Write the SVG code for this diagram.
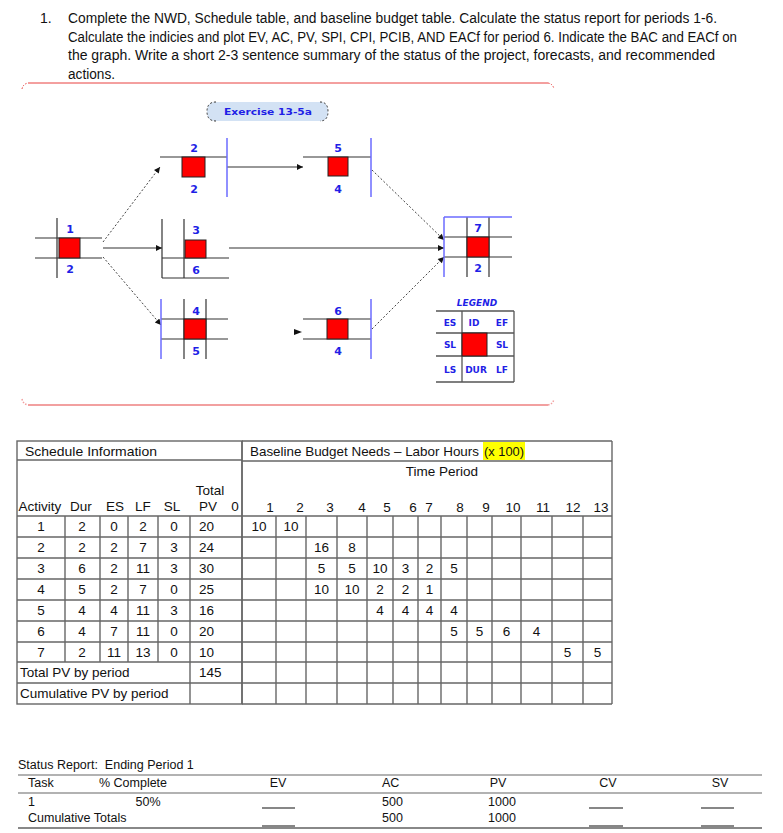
<svg xmlns="http://www.w3.org/2000/svg" width="783" height="833" viewBox="0 0 783 833">
<style>
.p{font-family:"Liberation Sans",Arial,sans-serif;font-size:14px;fill:#111}
.t{font-family:"Liberation Sans",Arial,sans-serif;font-size:13.5px;fill:#111}
.tc{font-family:"Liberation Sans",Arial,sans-serif;font-size:13.5px;fill:#111;text-anchor:middle}
.r{font-family:"Liberation Sans",Arial,sans-serif;font-size:12.5px;fill:#111}
.rc{font-family:"Liberation Sans",Arial,sans-serif;font-size:12.5px;fill:#111;text-anchor:middle}
.n{font-family:"DejaVu Sans",Verdana,sans-serif;font-size:11px;font-weight:bold;fill:#1f1fe6;text-anchor:middle}
.lg{font-family:"DejaVu Sans",Verdana,sans-serif;font-size:9px;font-weight:bold;fill:#1f1fe6;text-anchor:middle}
.k{stroke:#333;stroke-width:1.2;fill:none}
.b{stroke:#6b6bff;stroke-width:1.5;fill:none}
.sq{fill:#ff0000;stroke:#222;stroke-width:1}
.dot{stroke:#444;stroke-width:1;stroke-dasharray:2 2;fill:none}
.sol{stroke:#333;stroke-width:1.2;fill:none}
.g{stroke:#666;stroke-width:1.4;fill:none}
.s{stroke:#999;stroke-width:1.3;fill:none}
.ul{stroke:#111;stroke-width:1.1}
</style>
<defs>
<marker id="ah" viewBox="0 0 10 10" refX="10" refY="5" markerWidth="8" markerHeight="6" markerUnits="userSpaceOnUse" orient="auto">
<path d="M0,0 L10,5 L0,10 z" fill="#111"/>
</marker>
</defs>
<rect width="783" height="833" fill="#fff"/>

<!-- Question text -->
<g id="question">
<text class="p" x="40" y="23">1.</text>
<text class="p" x="68" y="23" textLength="649" lengthAdjust="spacingAndGlyphs">Complete the NWD, Schedule table, and baseline budget table. Calculate the status report for periods 1-6.</text>
<text class="p" x="68" y="41.5" textLength="669" lengthAdjust="spacingAndGlyphs">Calculate the indicies and plot EV, AC, PV, SPI, CPI, PCIB, AND EACf for period 6. Indicate the BAC and EACf on</text>
<text class="p" x="68" y="60" textLength="647" lengthAdjust="spacingAndGlyphs">the graph. Write a short 2-3 sentence summary of the status of the project, forecasts, and recommended</text>
<text class="p" x="68" y="78.5" textLength="47" lengthAdjust="spacingAndGlyphs">actions.</text>
</g>

<!-- separator frame -->
<g id="frame">
<path d="M22,89 Q23,84 28,83" stroke="#e8403f" stroke-width="1" stroke-dasharray="1.5 1.5" fill="none"/>
<line x1="28" y1="83" x2="548" y2="83" stroke="#e8403f" stroke-width="1"/>
<path d="M548,83 Q553,84 554,89" stroke="#e8403f" stroke-width="1" stroke-dasharray="1.5 1.5" fill="none"/>
<path d="M22,399 Q23,404 28,405" stroke="#f2a0a0" stroke-width="1.5" stroke-dasharray="1.5 1.5" fill="none"/>
<line x1="28" y1="405" x2="548" y2="405" stroke="#f2a0a0" stroke-width="2"/>
<path d="M548,405 Q553,404 554,399" stroke="#f2a0a0" stroke-width="1.5" stroke-dasharray="1.5 1.5" fill="none"/>
</g>

<!-- Exercise label -->
<g id="exercise">
<path d="M216,102 L320,102 Q328,102 328,111.5 Q328,121 320,121 L216,121 Q207,121 207,111.5 Q207,102 216,102 z" fill="#d3e2f4"/>
<path d="M216,102 Q207,102 207,111.5 Q207,121 216,121" stroke="#333" stroke-width="1" stroke-dasharray="2 2" fill="none"/>
<path d="M320,102 Q328,102 328,111.5 Q328,121 320,121" stroke="#333" stroke-width="1" stroke-dasharray="2 2" fill="none"/>
<text class="lg" x="268" y="115" textLength="88" lengthAdjust="spacingAndGlyphs">Exercise 13-5a</text>
</g>

<!-- connectors -->
<g id="connectors">
<line class="dot" x1="103" y1="242" x2="160" y2="167" marker-end="url(#ah)"/>
<line class="sol" x1="103" y1="248" x2="162" y2="248" marker-end="url(#ah)"/>
<line class="dot" x1="103" y1="257" x2="161" y2="325" marker-end="url(#ah)"/>
<line class="sol" x1="227" y1="167" x2="303" y2="167" marker-end="url(#ah)"/>
<line class="sol" x1="229" y1="248" x2="444" y2="248" marker-end="url(#ah)"/>
<line class="dot" x1="372" y1="170" x2="444" y2="240" marker-end="url(#ah)"/>
<line class="dot" x1="372" y1="329" x2="444" y2="257" marker-end="url(#ah)"/>
<path d="M294,329 L302,332 L294,335 z" fill="#111"/>
</g>

<!-- Node 1 -->
<g id="node1">
<line class="k" x1="35" y1="238" x2="102" y2="238"/>
<line class="k" x1="35" y1="258" x2="102" y2="258"/>
<line class="k" x1="57" y1="218" x2="57" y2="278"/>
<rect class="sq" x="59" y="238" width="21" height="20"/>
<text class="n" x="70" y="233">1</text>
<text class="n" x="70" y="273">2</text>
</g>

<!-- Node 2 -->
<g id="node2">
<line class="k" x1="160" y1="157" x2="227" y2="157"/>
<rect class="sq" x="182" y="157" width="23" height="20"/>
<line class="b" x1="227" y1="138" x2="227" y2="197"/>
<text class="n" x="194" y="152">2</text>
<text class="n" x="194" y="193">2</text>
</g>

<!-- Node 3 -->
<g id="node3">
<line class="k" x1="162" y1="219" x2="162" y2="278"/>
<line class="k" x1="184" y1="219" x2="184" y2="278"/>
<line class="k" x1="162" y1="258" x2="229" y2="258"/>
<line class="k" x1="162" y1="278" x2="229" y2="278"/>
<rect class="sq" x="185" y="240" width="21" height="18"/>
<text class="n" x="196" y="234">3</text>
<text class="n" x="196" y="274">6</text>
</g>

<!-- Node 4 -->
<g id="node4">
<line class="k" x1="161" y1="319" x2="228" y2="319"/>
<line class="k" x1="161" y1="339" x2="228" y2="339"/>
<line class="k" x1="184" y1="299" x2="184" y2="359"/>
<line class="k" x1="206" y1="299" x2="206" y2="359"/>
<rect class="sq" x="184" y="319" width="22" height="20"/>
<line class="b" x1="161" y1="299" x2="161" y2="359"/>
<text class="n" x="196" y="315">4</text>
<text class="n" x="196" y="355">5</text>
</g>

<!-- Node 5 -->
<g id="node5">
<line class="k" x1="303" y1="157" x2="371" y2="157"/>
<rect class="sq" x="328" y="157" width="20" height="19"/>
<line class="b" x1="371" y1="138" x2="371" y2="197"/>
<text class="n" x="338" y="152">5</text>
<text class="n" x="338" y="193">4</text>
</g>

<!-- Node 6 -->
<g id="node6">
<line class="k" x1="303" y1="319" x2="371" y2="319"/>
<line class="k" x1="303" y1="339" x2="371" y2="339"/>
<rect class="sq" x="327" y="319" width="21" height="20"/>
<line class="b" x1="371" y1="299" x2="371" y2="359"/>
<text class="n" x="338" y="315">6</text>
<text class="n" x="338" y="355">4</text>
</g>

<!-- Node 7 -->
<g id="node7">
<line class="k" x1="444" y1="237" x2="512" y2="237"/>
<line class="k" x1="444" y1="257" x2="512" y2="257"/>
<line class="k" x1="467" y1="217" x2="467" y2="277"/>
<line class="k" x1="489" y1="217" x2="489" y2="277"/>
<rect class="sq" x="467" y="237" width="22" height="20"/>
<line class="b" x1="444" y1="217" x2="444" y2="277"/>
<line class="b" x1="444" y1="217" x2="512" y2="217"/>
<text class="n" x="478" y="232">7</text>
<text class="n" x="478" y="272">2</text>
</g>

<!-- Legend -->
<g id="legend">
<text class="lg" x="477" y="306" font-style="italic">LEGEND</text>
<g stroke="#555" stroke-width="1.3" fill="none">
<line x1="436" y1="311" x2="514" y2="311"/>
<line x1="436" y1="333" x2="514" y2="333"/>
<line x1="436" y1="356" x2="514" y2="356"/>
<line x1="436" y1="382" x2="514" y2="382"/>
<line x1="462" y1="311" x2="462" y2="382"/>
<line x1="514" y1="311" x2="514" y2="382"/>
</g>
<rect class="sq" x="462" y="333" width="25" height="23"/>
<text class="lg" x="450" y="326">ES</text>
<text class="lg" x="474" y="326">ID</text>
<text class="lg" x="502" y="326">EF</text>
<text class="lg" x="450" y="348">SL</text>
<text class="lg" x="502" y="348">SL</text>
<text class="lg" x="450" y="373">LS</text>
<text class="lg" x="476" y="373">DUR</text>
<text class="lg" x="502" y="373">LF</text>
</g>

<!-- Schedule table -->
<g id="schedule-table">
<g class="g">
<rect x="17" y="441" width="225" height="263"/>
<line x1="17" y1="460" x2="242" y2="460"/>
<line x1="17" y1="516" x2="242" y2="516"/>
<line x1="17" y1="537" x2="242" y2="537"/>
<line x1="17" y1="558" x2="242" y2="558"/>
<line x1="17" y1="579" x2="242" y2="579"/>
<line x1="17" y1="600" x2="242" y2="600"/>
<line x1="17" y1="621" x2="242" y2="621"/>
<line x1="17" y1="642" x2="242" y2="642"/>
<line x1="17" y1="662" x2="242" y2="662"/>
<line x1="17" y1="683" x2="242" y2="683"/>
<line x1="65" y1="516" x2="65" y2="662"/>
<line x1="100" y1="516" x2="100" y2="662"/>
<line x1="128" y1="516" x2="128" y2="662"/>
<line x1="158" y1="516" x2="158" y2="662"/>
<line x1="190" y1="516" x2="190" y2="704"/>
</g>
<text class="t" x="25" y="456" textLength="132" lengthAdjust="spacingAndGlyphs">Schedule Information</text>
<text class="tc" x="210" y="495">Total</text>
<text class="tc" x="40" y="511">Activity</text>
<text class="tc" x="81" y="511">Dur</text>
<text class="tc" x="115" y="511">ES</text>
<text class="tc" x="143" y="511">LF</text>
<text class="tc" x="172" y="511">SL</text>
<text class="tc" x="208" y="511">PV</text>
<text class="tc" x="235" y="511">0</text>
<g class="tc">
<text x="41" y="531">1</text><text x="82" y="531">2</text><text x="114" y="531">0</text><text x="143" y="531">2</text><text x="174" y="531">0</text>
<text x="41" y="552">2</text><text x="82" y="552">2</text><text x="114" y="552">2</text><text x="143" y="552">7</text><text x="174" y="552">3</text>
<text x="41" y="573">3</text><text x="82" y="573">6</text><text x="114" y="573">2</text><text x="143" y="573">11</text><text x="174" y="573">3</text>
<text x="41" y="594">4</text><text x="82" y="594">5</text><text x="114" y="594">2</text><text x="143" y="594">7</text><text x="174" y="594">0</text>
<text x="41" y="615">5</text><text x="82" y="615">4</text><text x="114" y="615">4</text><text x="143" y="615">11</text><text x="174" y="615">3</text>
<text x="41" y="636">6</text><text x="82" y="636">4</text><text x="114" y="636">7</text><text x="143" y="636">11</text><text x="174" y="636">0</text>
<text x="41" y="656.5">7</text><text x="82" y="656.5">2</text><text x="114" y="656.5">11</text><text x="143" y="656.5">13</text><text x="174" y="656.5">0</text>
</g>
<g class="t">
<text x="199" y="531">20</text>
<text x="199" y="552">24</text>
<text x="199" y="573">30</text>
<text x="199" y="594">25</text>
<text x="199" y="615">16</text>
<text x="199" y="636">20</text>
<text x="199" y="656.5">10</text>
<text x="199" y="677">145</text>
<text x="20" y="677">Total PV by period</text>
<text x="20" y="698">Cumulative PV by period</text>
</g>
</g>

<!-- Budget table -->
<g id="budget-table">
<rect x="483" y="442" width="42" height="18" fill="#ffff00"/>
<g class="g">
<line x1="242" y1="441" x2="612" y2="441"/>
<line x1="242" y1="461" x2="612" y2="461"/>
<line x1="612" y1="441" x2="612" y2="704"/>
<line x1="242" y1="441" x2="242" y2="704"/>
<line x1="242" y1="516" x2="612" y2="516"/>
<line x1="242" y1="537" x2="612" y2="537"/>
<line x1="242" y1="558" x2="612" y2="558"/>
<line x1="242" y1="579" x2="612" y2="579"/>
<line x1="242" y1="600" x2="612" y2="600"/>
<line x1="242" y1="621" x2="612" y2="621"/>
<line x1="242" y1="642" x2="612" y2="642"/>
<line x1="242" y1="662" x2="612" y2="662"/>
<line x1="242" y1="683" x2="612" y2="683"/>
<line x1="242" y1="704" x2="612" y2="704"/>
<line x1="276" y1="516" x2="276" y2="704"/>
<line x1="306" y1="516" x2="306" y2="704"/>
<line x1="337" y1="516" x2="337" y2="704"/>
<line x1="367" y1="516" x2="367" y2="704"/>
<line x1="393" y1="516" x2="393" y2="704"/>
<line x1="418" y1="516" x2="418" y2="704"/>
<line x1="441" y1="516" x2="441" y2="704"/>
<line x1="467" y1="516" x2="467" y2="704"/>
<line x1="492" y1="516" x2="492" y2="704"/>
<line x1="521" y1="516" x2="521" y2="704"/>
<line x1="552" y1="516" x2="552" y2="704"/>
<line x1="583" y1="516" x2="583" y2="704"/>
</g>
<text class="t" x="250" y="456" textLength="229" lengthAdjust="spacingAndGlyphs">Baseline Budget Needs – Labor Hours</text>
<text class="t" x="484" y="456" textLength="40" lengthAdjust="spacingAndGlyphs">(x 100)</text>
<text class="tc" x="442" y="476">Time Period</text>
<g class="tc">
<text x="270" y="512">1</text><text x="300" y="512">2</text><text x="330" y="512">3</text><text x="362" y="512">4</text>
<text x="387" y="512">5</text><text x="413" y="512">6</text><text x="429" y="512">7</text><text x="460" y="512">8</text>
<text x="486" y="512">9</text><text x="513" y="512">10</text><text x="543" y="512">11</text><text x="573" y="512">12</text><text x="601" y="512">13</text>
</g>
<g class="tc">
<text x="259" y="531">10</text><text x="291" y="531">10</text>
<text x="321.5" y="552">16</text><text x="352" y="552">8</text>
<text x="321.5" y="573">5</text><text x="352" y="573">5</text><text x="380" y="573">10</text><text x="405.5" y="573">3</text><text x="429.5" y="573">2</text><text x="454" y="573">5</text>
<text x="321.5" y="594">10</text><text x="352" y="594">10</text><text x="380" y="594">2</text><text x="405.5" y="594">2</text><text x="429.5" y="594">1</text>
<text x="380" y="615">4</text><text x="405.5" y="615">4</text><text x="429.5" y="615">4</text><text x="454" y="615">4</text>
<text x="454" y="636">5</text><text x="479.5" y="636">5</text><text x="506.5" y="636">6</text><text x="536.5" y="636">4</text>
<text x="567.5" y="656.5">5</text><text x="597.5" y="656.5">5</text>
</g>
</g>

<!-- Status report -->
<g id="status-report">
<text class="r" x="18" y="769" xml:space="preserve">Status Report:  Ending Period 1</text>
<line class="s" x1="18" y1="775" x2="762" y2="775"/>
<line class="s" x1="18" y1="793" x2="762" y2="793"/>
<line x1="18" y1="828" x2="762" y2="828" stroke="#888" stroke-width="2"/>
<text class="r" x="28" y="787">Task</text>
<text class="rc" x="133" y="787">% Complete</text>
<text class="rc" x="278" y="787">EV</text>
<text class="r" x="382" y="787">AC</text>
<text class="rc" x="498" y="787">PV</text>
<text class="rc" x="608" y="787">CV</text>
<text class="rc" x="720" y="787">SV</text>
<text class="r" x="28" y="806">1</text>
<text class="rc" x="148" y="806">50%</text>
<text class="r" x="382" y="806">500</text>
<text class="rc" x="502" y="806">1000</text>
<text class="r" x="28" y="822">Cumulative Totals</text>
<text class="r" x="382" y="822">500</text>
<text class="rc" x="502" y="822">1000</text>
<line class="ul" x1="262" y1="808" x2="295" y2="808"/>
<line class="ul" x1="589" y1="808" x2="623" y2="808"/>
<line class="ul" x1="701" y1="808" x2="734" y2="808"/>
<line class="ul" x1="262" y1="826" x2="295" y2="826"/>
<line class="ul" x1="589" y1="826" x2="623" y2="826"/>
<line class="ul" x1="701" y1="826" x2="734" y2="826"/>
</g>
</svg>
